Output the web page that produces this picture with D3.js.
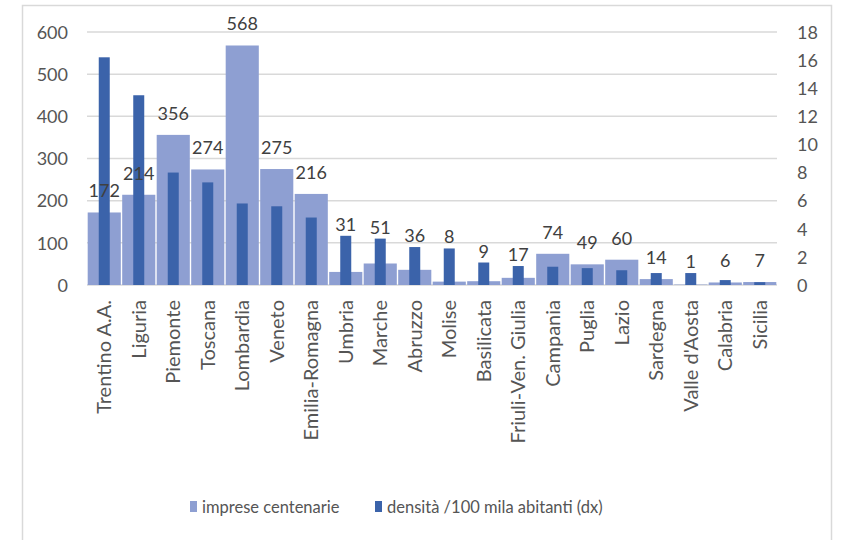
<!DOCTYPE html>
<html>
<head>
<meta charset="utf-8">
<script src="https://cdn.jsdelivr.net/npm/d3@7"></script>
<style>
  body { margin: 0; background: #fff; }
  text { font-family: Lato, "Open Sans", sans-serif; fill: #555555; }
</style>
</head>
<body>
<div id="chart-area"></div>
<script>
var regions = ['Trentino A.A.', 'Liguria', 'Piemonte', 'Toscana', 'Lombardia', 'Veneto',
  'Emilia-Romagna', 'Umbria', 'Marche', 'Abruzzo', 'Molise', 'Basilicata',
  'Friuli-Ven. Giulia', 'Campania', 'Puglia', 'Lazio', 'Sardegna', "Valle d'Aosta",
  'Calabria', 'Sicilia'];
var imprese = [172, 214, 356, 274, 568, 275, 216, 31, 51, 36, 8, 9, 17, 74, 49, 60, 14, 1, 6, 7];
var densita = [16.2, 13.5, 8.0, 7.3, 5.8, 5.6, 4.8, 3.5, 3.3, 2.7, 2.6, 1.6, 1.35, 1.3, 1.2, 1.05, 0.85, 0.85, 0.35, 0.2];
var leftTicks = [0, 100, 200, 300, 400, 500, 600];
var rightTicks = [0, 2, 4, 6, 8, 10, 12, 14, 16, 18];

var W = 841, H = 540;
var plot = { left: 87, right: 777, top: 32, bottom: 285 };
var lightColor = '#8e9fd2', darkColor = '#3b63aa';

var svg = d3.select('#chart-area').append('svg')
  .attr('width', W)
  .attr('height', H);

// frame
svg.append('rect')
  .attr('x', 22.5).attr('y', 5.5)
  .attr('width', 809).attr('height', 560)
  .attr('fill', 'none')
  .attr('stroke', '#d9d9d9')
  .attr('stroke-width', 1.5);

var x = d3.scaleBand()
  .domain(regions)
  .range([plot.left, plot.right])
  .paddingInner(0.04)
  .paddingOuter(0.02);

var y = d3.scaleLinear().domain([0, 600]).range([plot.bottom, plot.top]);
var y2 = d3.scaleLinear().domain([0, 18]).range([plot.bottom, plot.top]);

// gridlines
svg.append('g').selectAll('line')
  .data(leftTicks)
  .enter().append('line')
    .attr('x1', plot.left).attr('x2', plot.right)
    .attr('y1', function(d) { return y(d); })
    .attr('y2', function(d) { return y(d); })
    .attr('stroke', '#d9d9d9')
    .attr('stroke-width', 1.5);

// left axis
var yAxis = d3.axisLeft(y).tickValues(leftTicks).tickSize(0).tickPadding(0);
var gl = svg.append('g')
  .attr('transform', 'translate(68,0)')
  .call(yAxis);
gl.select('.domain').remove();
gl.selectAll('text').style('font-size', '18px').attr('dy', '0.35em');

// right axis
var yAxis2 = d3.axisRight(y2).tickValues(rightTicks).tickSize(0).tickPadding(0);
var gr = svg.append('g')
  .attr('transform', 'translate(797,0)')
  .call(yAxis2);
gr.select('.domain').remove();
gr.selectAll('text').style('font-size', '18px').attr('dy', '0.35em');

// light bars
svg.append('g').selectAll('rect')
  .data(imprese)
  .enter().append('rect')
    .attr('x', function(d, i) { return x(regions[i]); })
    .attr('y', function(d) { return y(d); })
    .attr('width', x.bandwidth())
    .attr('height', function(d) { return y(0) - y(d); })
    .attr('fill', lightColor);

// dark bars
var darkW = 11;
svg.append('g').selectAll('rect')
  .data(densita)
  .enter().append('rect')
    .attr('x', function(d, i) { return x(regions[i]) + x.bandwidth() / 2 - darkW / 2; })
    .attr('y', function(d) { return y2(d); })
    .attr('width', darkW)
    .attr('height', function(d) { return y2(0) - y2(d); })
    .attr('fill', darkColor);

// value labels: above the light bar, pushed above the dark bar when it is only a little taller
function labelY(d, i) {
  var ly = y(d) - 15;
  var dy = y2(densita[i]) - 5;
  if (dy < ly && ly - dy < 40) ly = dy;
  return ly;
}
svg.append('g').selectAll('text')
  .data(imprese)
  .enter().append('text')
    .attr('x', function(d, i) { return x(regions[i]) + x.bandwidth() / 2; })
    .attr('y', labelY)
    .attr('text-anchor', 'middle')
    .style('font-size', '18px')
    .style('fill', '#404040')
    .text(function(d) { return d; });

// category labels
svg.append('g').selectAll('text')
  .data(regions)
  .enter().append('text')
    .attr('transform', function(d) {
      return 'translate(' + (x(d) + x.bandwidth() / 2) + ',300) rotate(-90)';
    })
    .attr('text-anchor', 'end')
    .attr('dy', '0.35em')
    .style('font-size', '20px')
    .text(function(d) { return d; });

// legend
var legend = [
  { label: 'imprese centenarie', color: lightColor, x: 190 },
  { label: 'densità /100 mila abitanti (dx)', color: darkColor, x: 375 }
];
var lg = svg.append('g').selectAll('g')
  .data(legend)
  .enter().append('g')
    .attr('transform', function(d) { return 'translate(' + d.x + ',507)'; });
lg.append('rect')
  .attr('x', 0).attr('y', -6)
  .attr('width', 7).attr('height', 11)
  .attr('fill', function(d) { return d.color; });
lg.append('text')
  .attr('x', 12)
  .attr('dy', '0.35em')
  .style('font-size', '16.5px')
  .text(function(d) { return d.label; });
</script>
</body>
</html>
